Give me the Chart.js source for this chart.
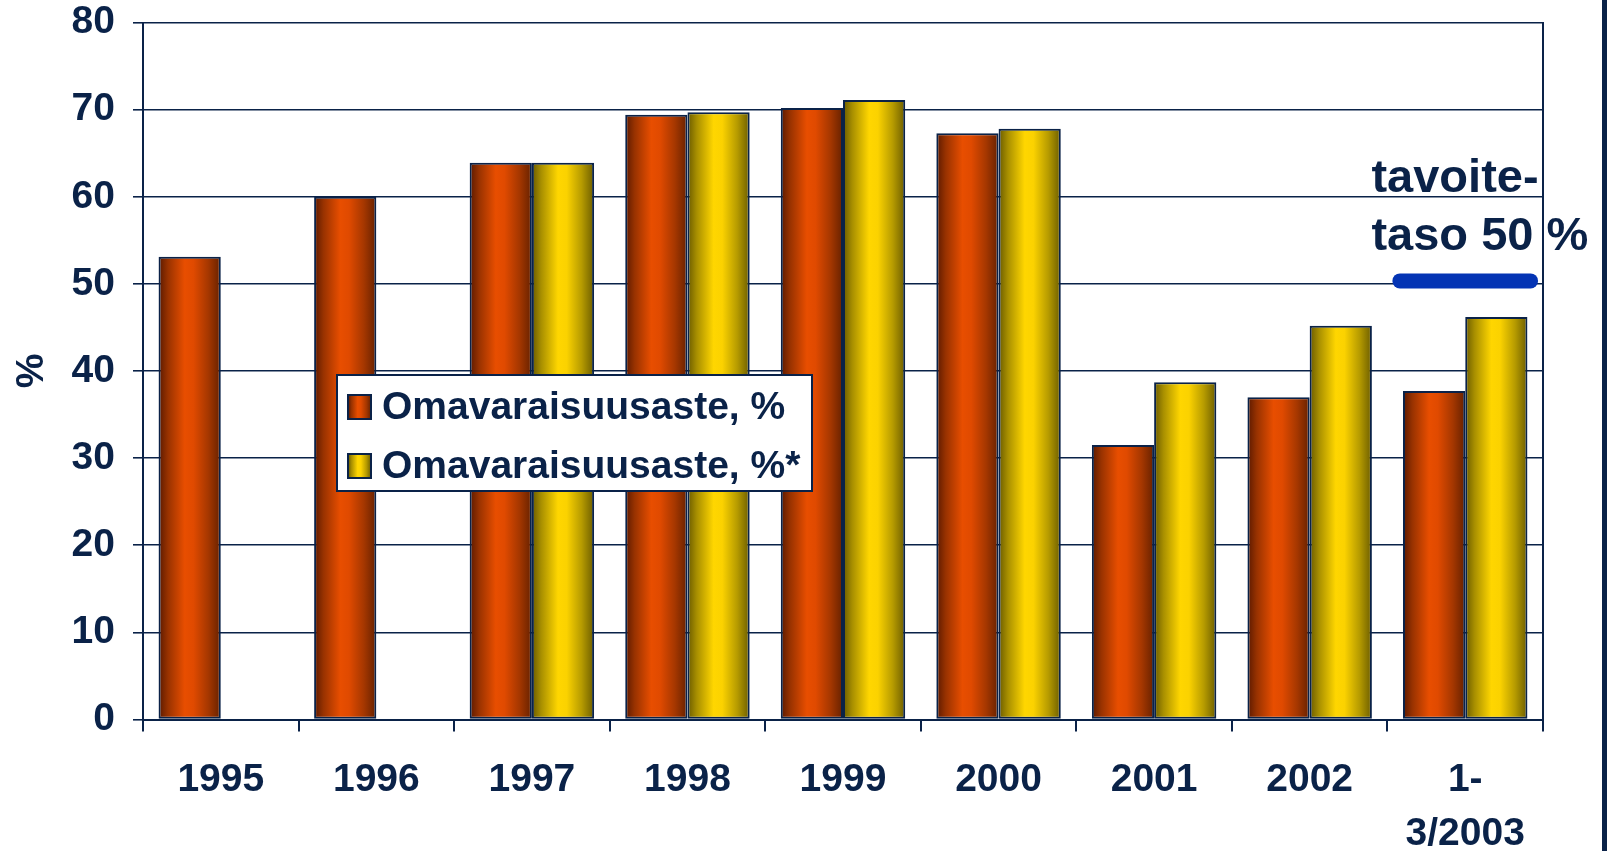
<!DOCTYPE html>
<html>
<head>
<meta charset="utf-8">
<script src="https://cdn.jsdelivr.net/npm/chart.js@4/dist/chart.umd.min.js"></script>
<style>
  html, body { margin: 0; padding: 0; background: #fff; overflow: hidden; }
  #wrap { position: relative; width: 1607px; height: 851px; }
  #edge { position: absolute; left: 1602px; top: 0; width: 5px; height: 851px; background: #0a2248; }
</style>
</head>
<body>
<div id="wrap">
  <canvas id="chart"></canvas>
  <div id="edge"></div>
</div>
<script>
// omavaraisuusaste – bar chart 1995 .. 1-3/2003

const categories = ["1995", "1996", "1997", "1998", "1999", "2000", "2001", "2002", ["1-", "3/2003"]];
const omavaraisuus     = [53.1, 60.0, 63.9, 69.4, 70.2, 67.3, 31.5, 37.0, 37.7];
const omavaraisuusStar = [null, null, 63.9, 69.7, 71.1, 67.8, 38.7, 45.2, 46.2];
const seriesLabels = ["Omavaraisuusaste, %", "Omavaraisuusaste, %*"];
const yMin = 0, yMax = 80, yStep = 10;
const target = 50;
const targetText = ["tavoite-", "taso 50 %"];

const navy = "#0a2248";
const fontFamily = "'Liberation Sans', Arial, sans-serif";

const orangeStops = [
  [0, "#5a1900"], [0.15, "#983200"], [0.42, "#e84e00"],
  [0.56, "#e04a00"], [0.8, "#a53700"], [1, "#662100"],
];
const yellowStops = [
  [0, "#695a00"], [0.15, "#a88f00"], [0.42, "#ffd600"],
  [0.56, "#fbd200"], [0.8, "#b69b00"], [1, "#6c5d00"],
];

function makeGradient(ctx, left, width, stops) {
  const g = ctx.createLinearGradient(left, 0, left + width, 0);
  stops.forEach(([p, c]) => g.addColorStop(p, c));
  return g;
}

// fill each bar with a horizontal "cylinder" gradient, placed from the x scale
function barFill(stops) {
  return (c) => {
    const chart = c.chart;
    const x = chart.scales.x;
    if (c.type !== "data" || !x || !chart.chartArea) return stops[2][1];
    const catW = x.width / categories.length;
    const barW = catW * 0.8 / 2;
    const center = x.getPixelForValue(c.dataIndex);
    const left = c.datasetIndex === 0 ? center - barW : center;
    return makeGradient(chart.ctx, left, barW, stops);
  };
}

const targetPlugin = {
  id: "target",
  afterDatasetsDraw(chart) {
    const { ctx, scales: { x, y } } = chart;
    const last = categories.length - 1;
    const catW = x.width / categories.length;
    const cx = x.getPixelForValue(last);
    const py = y.getPixelForValue(target) - 3;
    ctx.save();
    ctx.strokeStyle = "#0434b4";
    ctx.lineWidth = 15;
    ctx.lineCap = "round";
    ctx.beginPath();
    ctx.moveTo(cx - catW * 0.42, py);
    ctx.lineTo(cx + catW * 0.42, py);
    ctx.stroke();

    ctx.fillStyle = navy;
    ctx.font = `bold 47px ${fontFamily}`;
    ctx.textAlign = "left";
    ctx.textBaseline = "alphabetic";
    const tx = cx - catW / 2 - 16;
    ctx.fillText(targetText[0], tx, py - 89);
    ctx.fillText(targetText[1], tx, py - 31);
    ctx.restore();
  },
};

const legendPlugin = {
  id: "boxLegend",
  afterDraw(chart) {
    const { ctx } = chart;
    const box = { left: 337, top: 375, w: 475, h: 116 };
    ctx.save();
    ctx.fillStyle = "#fff";
    ctx.fillRect(box.left, box.top, box.w, box.h);
    ctx.strokeStyle = navy;
    ctx.lineWidth = 2;
    ctx.strokeRect(box.left, box.top, box.w, box.h);

    const stops = [orangeStops, yellowStops];
    ctx.font = `bold 39px ${fontFamily}`;
    ctx.textBaseline = "middle";
    ctx.textAlign = "left";
    chart.data.datasets.forEach((ds, i) => {
      const sy = box.top + 20 + i * 59;
      const sx = box.left + 11;
      ctx.fillStyle = makeGradient(ctx, sx, 23, stops[i]);
      ctx.fillRect(sx, sy, 23, 24);
      ctx.lineWidth = 2;
      ctx.strokeStyle = navy;
      ctx.strokeRect(sx, sy, 23, 24);
      ctx.fillStyle = navy;
      ctx.fillText(ds.label, box.left + 45, sy + 13);
    });
    ctx.restore();
  },
};

const tickFont = { size: 39, weight: "bold", family: fontFamily, lineHeight: 1.38 };

new Chart(document.getElementById("chart"), {
  type: "bar",
  data: {
    labels: categories,
    datasets: [
      {
        label: seriesLabels[0],
        data: omavaraisuus,
        backgroundColor: barFill(orangeStops),
        borderColor: navy,
        borderWidth: 2,
        borderSkipped: false,
      },
      {
        label: seriesLabels[1],
        data: omavaraisuusStar,
        backgroundColor: barFill(yellowStops),
        borderColor: navy,
        borderWidth: 2,
        borderSkipped: false,
      },
    ],
  },
  options: {
    responsive: true,
    maintainAspectRatio: false,
    animation: false,
    datasets: { bar: { barPercentage: 1, categoryPercentage: 0.8 } },
    layout: { padding: { left: 0, top: 22.5, right: 64, bottom: 0 } },
    plugins: {
      legend: { display: false },
      tooltip: { enabled: false },
    },
    scales: {
      x: {
        grid: { drawOnChartArea: false, drawTicks: true, tickLength: 12, color: navy, lineWidth: 2, offset: true },
        border: { display: true, color: navy, width: 2 },
        ticks: { color: navy, font: tickFont, padding: 22, maxRotation: 0, autoSkip: false },
        afterFit: (s) => { s.height = 131.5; s.paddingLeft = 0; s.paddingRight = 0; },
      },
      y: {
        min: yMin,
        max: yMax,
        ticks: { stepSize: yStep, color: navy, font: tickFont, padding: 18 },
        grid: { color: navy, lineWidth: 1.6, tickLength: 10 },
        border: { display: true, color: navy, width: 2 },
        title: {
          display: true,
          text: "%",
          color: navy,
          font: { size: 39, weight: "bold", family: fontFamily, lineHeight: 1.2 },
          padding: { top: 9, bottom: 0 },
        },
        afterFit: (s) => { s.width = 143; s.paddingTop = 0; s.paddingBottom = 0; },
      },
      y2: {
        position: "right",
        display: true,
        ticks: { display: false },
        grid: { drawOnChartArea: false, drawTicks: false },
        border: { display: true, color: navy, width: 2 },
        afterFit: (s) => { s.width = 0; s.paddingTop = 0; s.paddingBottom = 0; },
      },
    },
  },
  plugins: [targetPlugin, legendPlugin],
});
</script>
</body>
</html>
